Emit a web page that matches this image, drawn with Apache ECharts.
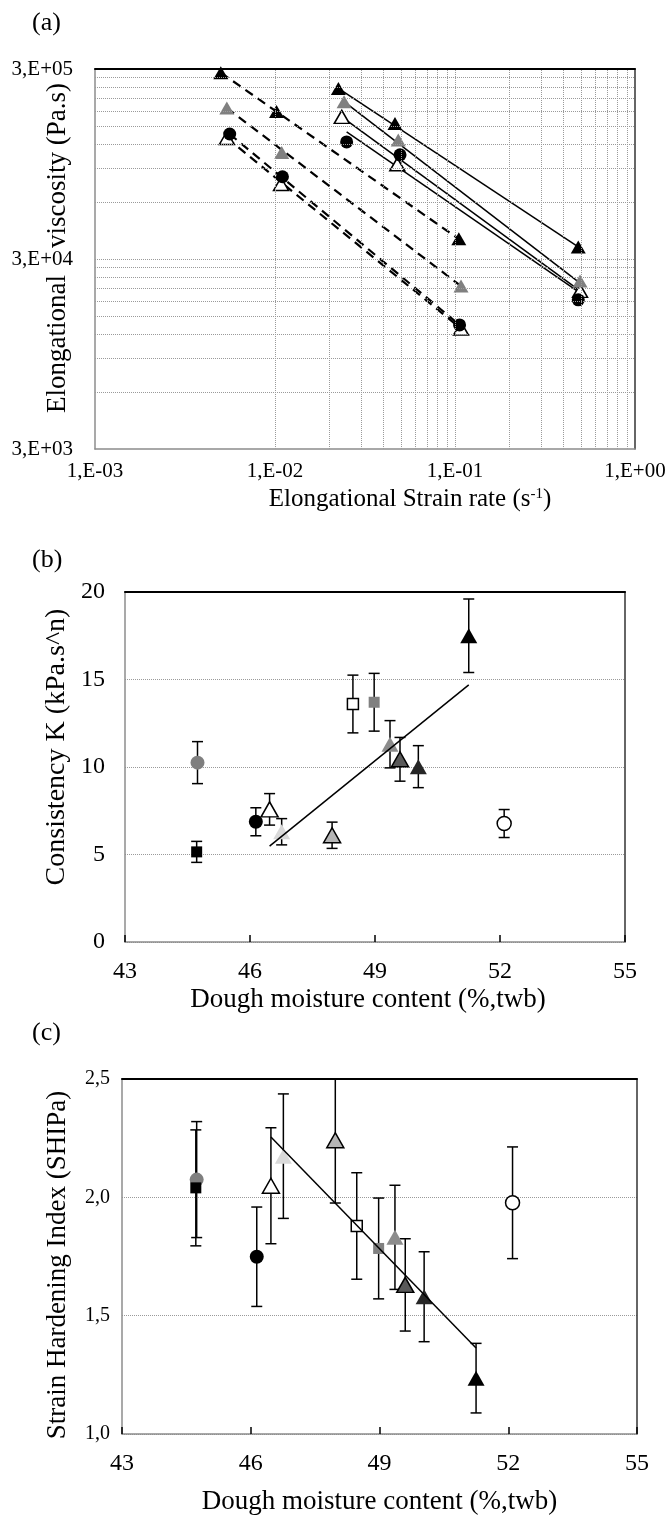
<!DOCTYPE html>
<html><head><meta charset="utf-8">
<script src="https://cdn.jsdelivr.net/npm/echarts@6/dist/echarts.min.js"></script>
<style>html,body{margin:0;padding:0;background:#fff}#c{width:671px;height:1517px}</style>
</head><body><div id="c"></div>
<script>
// ===== Panel (a): elongational viscosity vs strain rate =====
const aXTickValues = [0.001, 0.01, 0.1, 1];
const aXTickLabels = ['1,E-03', '1,E-02', '1,E-01', '1,E+00'];
const aYTickLabels = ['3,E+03', '3,E+04', '3,E+05'];
// measured points [strain rate s-1, viscosity Pa.s]
const aDashBlackTri = [[0.0050, 287000], [0.0102, 179000], [0.105, 38400]];
const aDashGrayTri  = [[0.0054, 187000], [0.0109, 109000], [0.108, 21600]];
const aDashCircle   = [[0.0056, 136500], [0.0110, 81300], [0.106, 13500]];
const aDashOpenTri  = [[0.0054, 130000], [0.0108, 74400], [0.108, 12900]];
const aSolidBlackTri = [[0.0225, 237000], [0.0464, 155000], [0.484, 34700]];
const aSolidGrayTri  = [[0.0242, 202000], [0.0484, 127000], [0.495, 23000]];
const aSolidCircle   = [[0.0250, 124000], [0.0495, 106000], [0.484, 18300]];
const aSolidOpenTri  = [[0.0235, 168000], [0.0478, 94500], [0.495, 20400]];
// power-law fit lines (start, end)
const aFitDashBlackTri = [[0.0050, 287000], [0.105, 38200]];
const aFitDashGrayTri  = [[0.0054, 187000], [0.108, 21600]];
const aFitDashCircle   = [[0.0056, 136500], [0.106, 13500]];
const aFitDashOpenTri  = [[0.0054, 130000], [0.108, 12900]];
const aFitSolidBlackTri = [[0.0225, 237000], [0.484, 34700]];
const aFitSolidGrayTri  = [[0.0242, 202000], [0.495, 22400]];
const aFitSolidOpenTri  = [[0.0235, 168000], [0.495, 20400]];
const aFitSolidCircle   = [[0.0250, 140000], [0.495, 19900]];

// ===== Panels (b) and (c): per-sample values =====
const moisture = [44.74, 44.72, 46.14, 46.47, 46.76, 47.97, 48.47, 48.98, 49.36, 49.60, 50.04, 51.25, 52.10];
const kValues  = [10.25, 5.15, 6.87, 7.58, 6.30, 6.10, 13.60, 13.70, 11.30, 10.44, 10.02, 17.50, 6.77];
const kErrors  = [1.20, 0.60, 0.80, 0.90, 0.75, 0.75, 1.65, 1.65, 1.35, 1.25, 1.20, 2.10, 0.80];
const shiValues = [2.075, 2.040, 1.749, 2.049, 2.174, 2.241, 1.879, 1.784, 1.831, 1.630, 1.580, 1.236, 1.977];
const shiErrors = [0.245, 0.245, 0.210, 0.245, 0.263, 0.265, 0.225, 0.213, 0.220, 0.195, 0.190, 0.147, 0.236];
const kTrend   = [[46.47, 5.48], [51.25, 14.69]];
const shiTrend = [[46.47, 2.255], [51.25, 1.363]];
const bcXTickLabels = ['43', '46', '49', '52', '55'];
const bYTickLabels = ['0', '5', '10', '15', '20'];
const cYTickLabels = ['1,0', '1,5', '2,0', '2,5'];

// ---------- styles ----------
const FONT = 'Liberation Serif';
const sampleStyles = [
  {symbol: 'circle', size: 14, fill: '#7f7f7f'},
  {symbol: 'rect', size: [11, 11], fill: '#000'},
  {symbol: 'circle', size: 14, fill: '#000'},
  {symbol: 'triangle', size: [17, 15], fill: '#fff', border: '#000'},
  {symbol: 'triangle', size: [17, 15], fill: '#d9d9d9'},
  {symbol: 'triangle', size: [17, 15], fill: '#b5b5b5', border: '#000'},
  {symbol: 'rect', size: [11, 11], fill: '#fff', border: '#000'},
  {symbol: 'rect', size: [11, 11], fill: '#808080'},
  {symbol: 'triangle', size: [17, 15], fill: '#8c8c8c'},
  {symbol: 'triangle', size: [17, 15], fill: '#595959', border: '#000'},
  {symbol: 'triangle', size: [17, 15], fill: '#262626'},
  {symbol: 'triangle', size: [17, 15], fill: '#000'},
  {symbol: 'circle', size: 14, fill: '#fff', border: '#000'}
];
const aStyle = {
  blackTri: {symbol: 'triangle', size: [15, 13], fill: '#000'},
  grayTri: {symbol: 'triangle', size: [15, 13], fill: '#808080'},
  circle: {symbol: 'circle', size: 13, fill: '#000'},
  openTri: {symbol: 'triangle', size: [15, 13], fill: '#fff', border: '#000'}
};

const lbl = (size, extra) => Object.assign({fontFamily: FONT, fontSize: size, color: '#000'}, extra || {});
const nameStyle = (size, extra) => Object.assign({fontFamily: FONT, fontSize: size, color: '#000'}, extra || {});
const grayLine = {show: true, onZero: false, lineStyle: {color: '#8c8c8c', width: 1.5}};
const dotted = {type: 'dotted', color: '#9a9a9a', width: 1};

function borderAxes(grid) {
  return {
    x: {gridIndex: grid, type: 'value', position: 'top', min: 0, max: 1,
        axisLine: {show: true, onZero: false, lineStyle: {color: '#000', width: 2}},
        axisTick: {show: false}, axisLabel: {show: false}, splitLine: {show: false}},
    y: {gridIndex: grid, type: 'value', position: 'right', min: 0, max: 1,
        axisLine: {show: true, onZero: false, lineStyle: {color: '#333', width: 1.5}},
        axisTick: {show: false}, axisLabel: {show: false}, splitLine: {show: false}}
  };
}

// gridline values for panel (a) log axes
const aYGrid = [];
[3000, 30000].forEach(d => { for (let m = 1; m <= 9; m++) aYGrid.push(m * d); });
const aXGrid = [];
[0.001, 0.01, 0.1].forEach(d => { for (let m = 1; m <= 9; m++) aXGrid.push(m * d); });

const b0 = borderAxes(0), b1 = borderAxes(1), b2 = borderAxes(2);

const xAxis = [
  // 0: panel a log x
  {gridIndex: 0, type: 'log', logBase: 10, min: 0.001, max: 1,
   axisLine: grayLine, axisTick: {show: false}, splitLine: {show: false},
   axisLabel: lbl(21, {margin: 12, formatter: v => {
     const i = aXTickValues.findIndex(t => Math.abs(Math.log10(t) - Math.log10(v)) < 1e-6);
     return i >= 0 ? aXTickLabels[i] : '';
   }}),
   name: 'Elongational Strain rate (s{sup|-1})', nameLocation: 'middle', nameGap: 38, nameMoveOverlap: false,
   nameTextStyle: nameStyle(25, {padding: [0, 0, 0, 90], rich: {sup: {fontFamily: FONT, fontSize: 15, verticalAlign: 'top', padding: [0, 0, 10, 0]}}})},
  b0.x,
  // 2: panel b x
  {gridIndex: 1, type: 'value', min: 43, max: 55, interval: 3,
   axisLine: grayLine, axisTick: {show: true, inside: true, length: 7, lineStyle: {color: '#000', width: 1.5}},
   splitLine: {show: false},
   axisLabel: lbl(24, {margin: 18, formatter: v => bcXTickLabels[Math.round((v - 43) / 3)]}),
   name: 'Dough moisture content (%,twb)', nameLocation: 'middle', nameGap: 44, nameMoveOverlap: false,
   nameTextStyle: nameStyle(27, {padding: [0, 14, 0, 0]})},
  b1.x,
  // 4: panel c x
  {gridIndex: 2, type: 'value', min: 43, max: 55, interval: 3,
   axisLine: grayLine, axisTick: {show: true, inside: true, length: 7, lineStyle: {color: '#000', width: 1.5}},
   splitLine: {show: false},
   axisLabel: lbl(24, {margin: 18, formatter: v => bcXTickLabels[Math.round((v - 43) / 3)]}),
   name: 'Dough moisture content (%,twb)', nameLocation: 'middle', nameGap: 54, nameMoveOverlap: false,
   nameTextStyle: nameStyle(27)},
  b2.x
];

const yAxis = [
  // 0: panel a log y (data)
  {gridIndex: 0, type: 'log', logBase: 10, min: 3000, max: 300000,
   axisLine: grayLine, axisTick: {show: false}, axisLabel: {show: false}, splitLine: {show: false}},
  // 1: panel a label overlay (decades above 3E+03)
  {gridIndex: 0, type: 'value', position: 'left', min: 0, max: 2, interval: 1,
   axisLine: {show: false, onZero: false}, axisTick: {show: false}, splitLine: {show: false},
   axisLabel: lbl(21, {margin: 22, formatter: v => aYTickLabels[Math.round(v)]}),
   name: 'Elongational    viscosity (Pa.s)', nameLocation: 'middle', nameGap: 24, nameRotate: 90, nameMoveOverlap: false,
   nameTextStyle: nameStyle(27, {padding: [0, 0, 0, 22]})},
  b0.y,
  // 3: panel b y
  {gridIndex: 1, type: 'value', min: 0, max: 20, interval: 5,
   axisLine: grayLine, axisTick: {show: false},
   splitLine: {show: true, lineStyle: dotted},
   axisLabel: lbl(24, {margin: 20, formatter: v => bYTickLabels[Math.round(v / 5)]}),
   name: 'Consistency K (kPa.s^n)', nameLocation: 'middle', nameGap: 54, nameRotate: 90, nameMoveOverlap: false,
   nameTextStyle: nameStyle(28, {padding: [0, 0, 0, 40]})},
  b1.y,
  // 5: panel c y
  {gridIndex: 2, type: 'value', min: 1, max: 2.5, interval: 0.5,
   axisLine: grayLine, axisTick: {show: false},
   splitLine: {show: true, lineStyle: dotted},
   axisLabel: lbl(20, {margin: 12, formatter: v => cYTickLabels[Math.round((v - 1) / 0.5)]}),
   name: 'Strain Hardening Index (SHIPa)', nameLocation: 'middle', nameGap: 51, nameRotate: 90, nameMoveOverlap: false,
   nameTextStyle: nameStyle(27, {padding: [0, 17, 0, 0]})},
  b2.y
];

function markerItem(st) {
  return {color: st.fill, borderColor: st.border || st.fill, borderWidth: st.border ? 1.5 : 0, opacity: 1};
}
function aScatter(data, st) {
  return {type: 'scatter', xAxisIndex: 0, yAxisIndex: 0, data: data, symbol: st.symbol,
          symbolSize: st.size, itemStyle: markerItem(st), z: 4};
}
function aLine(data, dashed) {
  return {type: 'line', xAxisIndex: 0, yAxisIndex: 0, data: data, showSymbol: false, symbol: 'none',
          lineStyle: {color: '#000', width: dashed ? 2.2 : 1.5, type: dashed ? [9, 6] : 'solid'}, z: 3};
}
function errorBars(xi, yi, vals, errs) {
  return {type: 'custom', xAxisIndex: xi, yAxisIndex: yi, clip: true, z: 2,
    data: moisture.map((x, i) => [x, vals[i] - errs[i], vals[i] + errs[i]]),
    encode: {x: 0, y: [1, 2]},
    renderItem: (params, api) => {
      const lo = api.coord([api.value(0), api.value(1)]);
      const hi = api.coord([api.value(0), api.value(2)]);
      const w = 5.5;
      const style = {stroke: '#000', lineWidth: 1.5, fill: null};
      return {type: 'group', children: [
        {type: 'line', shape: {x1: lo[0], y1: lo[1], x2: hi[0], y2: hi[1]}, style: style},
        {type: 'line', shape: {x1: lo[0] - w, y1: lo[1], x2: lo[0] + w, y2: lo[1]}, style: style},
        {type: 'line', shape: {x1: hi[0] - w, y1: hi[1], x2: hi[0] + w, y2: hi[1]}, style: style}
      ]};
    }};
}
function samples(xi, yi, vals) {
  return moisture.map((x, i) => ({type: 'scatter', xAxisIndex: xi, yAxisIndex: yi,
    data: [[x, vals[i]]], symbol: sampleStyles[i].symbol, symbolSize: sampleStyles[i].size,
    itemStyle: markerItem(sampleStyles[i]), z: 3}));
}
function trend(xi, yi, data) {
  return {type: 'line', xAxisIndex: xi, yAxisIndex: yi, data: data, showSymbol: false, symbol: 'none',
          lineStyle: {color: '#000', width: 1.5}, z: 5};
}

const series = [
  // minor + major log gridlines for panel (a)
  {type: 'line', xAxisIndex: 0, yAxisIndex: 0, data: [], z: 1, silent: true,
   markLine: {silent: true, symbol: ['none', 'none'], animation: false, label: {show: false},
     lineStyle: dotted,
     data: aYGrid.slice(1).map(v => ({yAxis: v})).concat(aXGrid.slice(1).map(v => ({xAxis: v})))}},
  aLine(aFitDashBlackTri, true), aLine(aFitDashGrayTri, true), aLine(aFitDashCircle, true), aLine(aFitDashOpenTri, true),
  aLine(aFitSolidBlackTri, false), aLine(aFitSolidGrayTri, false), aLine(aFitSolidOpenTri, false), aLine(aFitSolidCircle, false),
  aScatter(aDashOpenTri, aStyle.openTri), aScatter(aDashCircle, aStyle.circle),
  aScatter(aDashGrayTri, aStyle.grayTri), aScatter(aDashBlackTri, aStyle.blackTri),
  aScatter(aSolidOpenTri, aStyle.openTri), aScatter(aSolidCircle, aStyle.circle),
  aScatter(aSolidGrayTri, aStyle.grayTri), aScatter(aSolidBlackTri, aStyle.blackTri),
  errorBars(2, 3, kValues, kErrors),
  ...samples(2, 3, kValues),
  trend(2, 3, kTrend),
  errorBars(4, 5, shiValues, shiErrors),
  ...samples(4, 5, shiValues),
  trend(4, 5, shiTrend)
];

const panelTitle = (t, top) => ({text: t, left: 32, top: top, padding: 0,
  textStyle: {fontFamily: FONT, fontSize: 26, fontWeight: 'normal', color: '#000'}});

const chart = echarts.init(document.getElementById('c'), null, {renderer: 'canvas'});
chart.setOption({
  animation: false,
  backgroundColor: '#fff',
  title: [panelTitle('(a)', 10), panelTitle('(b)', 547), panelTitle('(c)', 1020)],
  grid: [
    {left: 95, top: 69, width: 540, height: 380, containLabel: false, outerBoundsMode: 'none'},
    {left: 125, top: 592, width: 500, height: 350, containLabel: false, outerBoundsMode: 'none'},
    {left: 122, top: 1079, width: 515, height: 355, containLabel: false, outerBoundsMode: 'none'}
  ],
  xAxis: xAxis,
  yAxis: yAxis,
  series: series
});
</script></body></html>
